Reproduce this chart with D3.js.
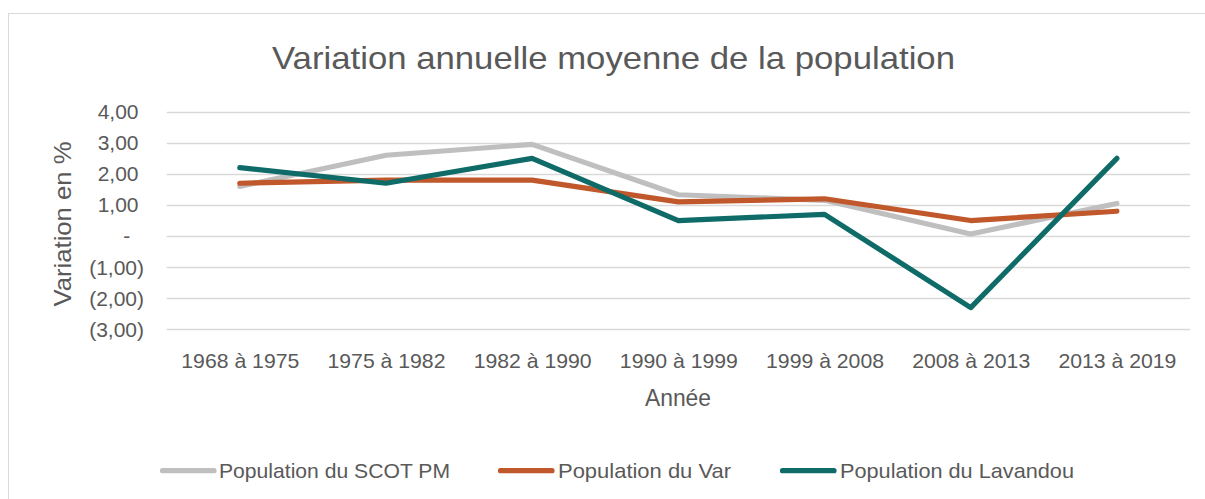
<!DOCTYPE html>
<html><head><meta charset="utf-8">
<script src="https://cdn.jsdelivr.net/npm/d3@7"></script>
<style>
body{margin:0;background:#fff}
svg{display:block}
text{font-family:"Liberation Sans",Arial,sans-serif;fill:#595959}
</style>
</head><body>
<svg id="chart" width="1205" height="499"></svg>
<script>
// ---- data ----
const categories = ["1968 à 1975","1975 à 1982","1982 à 1990","1990 à 1999","1999 à 2008","2008 à 2013","2013 à 2019"];
const scotPM   = [1.6, 2.6, 2.95, 1.33, 1.15, 0.07, 1.05];
const var83    = [1.7, 1.8, 1.8, 1.1, 1.2, 0.5, 0.8];
const lavandou = [2.2, 1.7, 2.5, 0.5, 0.7, -2.3, 2.5];
const seriesNames = ["Population du SCOT PM","Population du Var","Population du Lavandou"];
const yTickValues = [4,3,2,1,0,-1,-2,-3];
const yTickLabels = ["4,00","3,00","2,00","1,00","-","(1,00)","(2,00)","(3,00)"];
const titleText = "Variation annuelle moyenne de la population";
const yTitle = "Variation en %";
const xTitle = "Année";

// ---- styles / layout ----
const colors = ["#BFBFBF","#C0582B","#0E6B68"];
const svg = d3.select("#chart");
const plot = {left:166.7, right:1190, top:111.7, bottom:329.4};

// chart border
svg.append("rect").attr("x",8.5).attr("y",13.5).attr("width",1220).attr("height",520)
  .attr("fill","#fff").attr("stroke","#D9D9D9").attr("stroke-width",1);

const x = d3.scalePoint().domain(categories).range([plot.left, plot.right]).padding(0.5);
const y = d3.scaleLinear().domain([-3,4]).range([plot.bottom, plot.top]);

// gridlines
svg.append("g").selectAll("line").data(yTickValues).join("line")
  .attr("x1",plot.left).attr("x2",plot.right)
  .attr("y1",d=>Math.round(y(d))+0.5).attr("y2",d=>Math.round(y(d))+0.5)
  .attr("stroke","#D9D9D9").attr("stroke-width",1.5);

// y axis labels
const yAxis = d3.axisLeft(y).tickValues(yTickValues).tickSize(0)
  .tickFormat((d,i)=>yTickLabels[i]);
const yg = svg.append("g").attr("transform",`translate(${plot.left},0)`).call(yAxis);
yg.select(".domain").remove();
yg.selectAll("text")
  .attr("font-size",21).attr("fill","#595959")
  .style("font-family",'"Liberation Sans",Arial,sans-serif')
  .attr("dy",null)
  .attr("y",6.8)
  .attr("x",(d,i)=>{
    const l = yTickLabels[i];
    if (l === "-") return 130.2 - plot.left;
    if (l.startsWith("(")) return 144 - plot.left;
    return 138.5 - plot.left;
  })
  .attr("text-anchor","end");

// x axis labels
const xAxis = d3.axisBottom(x).tickSize(0);
const xg = svg.append("g").attr("transform",`translate(0,${plot.bottom})`).call(xAxis);
xg.select(".domain").remove();
xg.selectAll("text")
  .attr("font-size",21).attr("fill","#595959")
  .style("font-family",'"Liberation Sans",Arial,sans-serif')
  .attr("dy",null).attr("y",368.5 - plot.bottom)
  .attr("textLength",118).attr("lengthAdjust","spacingAndGlyphs");

// lines
const allSeries = [scotPM, var83, lavandou];
const line = d3.line().x((d,i)=>x(categories[i])).y(d=>y(d));
svg.append("g").selectAll("path").data(allSeries).join("path")
  .attr("d",line).attr("fill","none")
  .attr("stroke",(d,i)=>colors[i]).attr("stroke-width",5.2)
  .attr("stroke-linejoin","round").attr("stroke-linecap","round");

// title
svg.append("text").attr("x",613.5).attr("y",68.5).attr("text-anchor","middle")
  .attr("font-size",32).text(titleText)
  .attr("textLength",683).attr("lengthAdjust","spacingAndGlyphs");

// axis titles
svg.append("text").attr("transform","translate(70.5,224) rotate(-90)")
  .attr("text-anchor","middle").attr("font-size",24).text(yTitle)
  .attr("textLength",165).attr("lengthAdjust","spacingAndGlyphs");
svg.append("text").attr("x",678).attr("y",406).attr("text-anchor","middle")
  .attr("font-size",24).text(xTitle)
  .attr("textLength",66).attr("lengthAdjust","spacingAndGlyphs");

// legend
const legendX = [160, 498, 780];
const legendTextW = [231, 173, 234];
const lg = svg.append("g").selectAll("g").data(seriesNames).join("g")
  .attr("transform",(d,i)=>`translate(${legendX[i]},470.7)`);
lg.append("line").attr("x1",2.5).attr("x2",54).attr("y1",0).attr("y2",0)
  .attr("stroke",(d,i)=>colors[i]).attr("stroke-width",5.2).attr("stroke-linecap","round");
lg.append("text").attr("x",(d,i)=>i===0?59:60).attr("y",6.8).attr("font-size",21).text(d=>d)
  .attr("textLength",(d,i)=>legendTextW[i]).attr("lengthAdjust","spacingAndGlyphs");
</script>
</body></html>
